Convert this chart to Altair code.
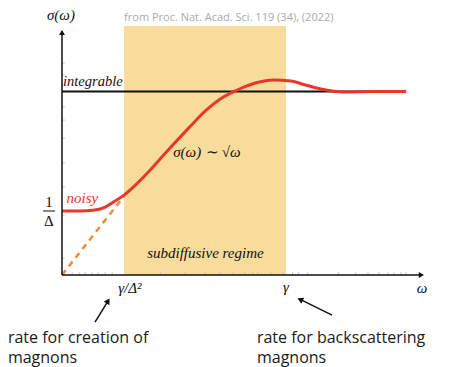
import altair as alt
import pandas as pd

# ---- data (omega, sigma) in schematic units: x 0..10, y 0..10 ----
curve_x = [0.0, 0.5, 0.91, 1.19, 1.46, 1.71, 2.02, 2.43, 2.85, 3.18, 3.54, 3.95,
           4.36, 4.83, 5.33, 5.83, 6.30, 6.71, 7.13, 7.76, 8.51, 9.48]
curve_y = [2.57, 2.57, 2.61, 2.73, 2.97, 3.21, 3.61, 4.22, 4.90, 5.42, 5.98, 6.59,
           7.07, 7.43, 7.71, 7.83, 7.79, 7.63, 7.47, 7.35, 7.37, 7.37]
integrable_level = 7.37
integrable_x = [0.0, 9.48]
dashed_x = [0.0, 1.82]
dashed_y = [0.0, 3.37]
regime_x = [1.71, 6.17]
regime_y = [0.0, 10.0]
xtick_pos = [0.28, 0.47, 0.64, 0.83, 0.99, 1.19, 1.38, 2.71, 3.40, 3.95, 4.36, 4.72,
             5.03, 5.25, 5.39, 5.75, 6.10, 6.35, 6.52, 6.77, 7.62, 8.09, 8.43, 8.73,
             8.98, 9.14, 9.34, 9.48]
ytick_pos = [8.51, 8.03, 6.75, 6.22, 5.50, 4.50, 3.53, 2.41, 0.68]

math_text = ["σ(ω)", "integrable", "σ(ω) ∼ √ω", "subdiffusive regime", "noisy",
             "γ/Δ²", "γ", "ω"]
math_x = [-0.03, 0.85, 3.99, 3.95, 0.56, 1.87, 6.17, 9.92]
math_y = [10.26, 7.59, 4.74, 0.67, 2.89, -0.72, -0.68, -0.72]
math_size = [15, 14.5, 15, 15, 15, 15, 15, 15]
math_color = ["#111111", "#111111", "#111111", "#111111", "#E8372B",
              "#111111", "#111111", "#111111"]

roman_text = ["1", "Δ"]
roman_x = [-0.36, -0.36]
roman_y = [2.73, 1.97]

note_text = ["rate for creation of", "magnons", "rate for backscattering", "magnons"]
note_x = [-1.49, -1.49, 5.37, 5.37]
note_y = [-2.73, -3.53, -2.73, -3.53]

cite_text = ["from Proc. Nat. Acad. Sci. 119 (34), (2022)"]
cite_x = [1.71]
cite_y = [10.2]

arrow_id = ["a1", "a1", "a2", "a2"]
arrow_x = [0.91, 1.27, 7.44, 6.56]
arrow_y = [-1.89, -1.04, -1.61, -0.98]
head_x = [1.27, 6.56]
head_y = [-1.04, -0.98]
head_angle = [32, 296]

# ---- scales ----
XS = alt.Scale(domain=[0, 10], nice=False, zero=False)
YS = alt.Scale(domain=[0, 10], nice=False, zero=False)


def X(f):
    return alt.X(f, type="quantitative", scale=XS, axis=None)


def Y(f):
    return alt.Y(f, type="quantitative", scale=YS, axis=None)


regime = alt.Chart(pd.DataFrame({"x": [regime_x[0]], "x2": [regime_x[1]],
                                 "y": [regime_y[0]], "y2": [regime_y[1]]})).mark_rect(
    color="#F8DC9B").encode(x=X("x"), x2="x2", y=Y("y"), y2="y2")

xt = pd.DataFrame({"x": xtick_pos, "y": 0.0, "y2": 0.12})
xticks = alt.Chart(xt).mark_rule(color="#BBBBBB", strokeWidth=0.8).encode(
    x=X("x"), y=Y("y"), y2="y2")
yt = pd.DataFrame({"y": ytick_pos, "x": 0.0, "x2": 0.09})
yticks = alt.Chart(yt).mark_rule(color="#BBBBBB", strokeWidth=0.8).encode(
    x=X("x"), x2="x2", y=Y("y"))

xaxis = alt.Chart(pd.DataFrame({"x": [0.0], "x2": [9.93], "y": [0.0]})).mark_rule(
    color="#111111", strokeWidth=1.5).encode(x=X("x"), x2="x2", y=Y("y"))
yaxis = alt.Chart(pd.DataFrame({"x": [0.0], "y": [0.0], "y2": [9.8]})).mark_rule(
    color="#111111", strokeWidth=1.5).encode(x=X("x"), y=Y("y"), y2="y2")
xhead = alt.Chart(pd.DataFrame({"x": [9.9], "y": [0.0]})).mark_point(
    shape="triangle-right", filled=True, color="#111111", size=35, opacity=1).encode(
    x=X("x"), y=Y("y"))
yhead = alt.Chart(pd.DataFrame({"x": [0.0], "y": [9.74]})).mark_point(
    shape="triangle-up", filled=True, color="#111111", size=35, opacity=1).encode(
    x=X("x"), y=Y("y"))

integ = alt.Chart(pd.DataFrame({"x": [integrable_x[0]], "x2": [integrable_x[1]],
                                "y": [integrable_level]})).mark_rule(
    color="#111111", strokeWidth=2).encode(x=X("x"), x2="x2", y=Y("y"))

dashed = alt.Chart(pd.DataFrame({"x": dashed_x, "y": dashed_y})).mark_line(
    color="#F08C3A", strokeWidth=2.5, strokeDash=[6, 5]).encode(x=X("x"), y=Y("y"))

curve = alt.Chart(pd.DataFrame({"x": curve_x, "y": curve_y})).mark_line(
    color="#E8372B", strokeWidth=3, interpolate="monotone").encode(
    x=X("x"), y=Y("y"), order="x:Q")

frac = alt.Chart(pd.DataFrame({"x": [-0.52], "x2": [-0.19], "y": [2.57]})).mark_rule(
    color="#111111", strokeWidth=1).encode(x=X("x"), x2="x2", y=Y("y"))

math = alt.Chart(pd.DataFrame({"t": math_text, "x": math_x, "y": math_y,
                               "s": math_size, "c": math_color})).mark_text(
    font="Liberation Serif", fontStyle="italic", align="center",
    baseline="alphabetic").encode(
    x=X("x"), y=Y("y"), text="t:N",
    size=alt.Size("s:Q", scale=None, legend=None),
    color=alt.Color("c:N", scale=None, legend=None))

roman = alt.Chart(pd.DataFrame({"t": roman_text, "x": roman_x, "y": roman_y})).mark_text(
    font="Liberation Serif", fontSize=15, align="center", baseline="alphabetic",
    color="#111111").encode(x=X("x"), y=Y("y"), text="t:N")

notes = alt.Chart(pd.DataFrame({"t": note_text, "x": note_x, "y": note_y})).mark_text(
    font="Open Sans", fontSize=16, align="left", baseline="alphabetic",
    color="#1a1a1a").encode(x=X("x"), y=Y("y"), text="t:N")

cite = alt.Chart(pd.DataFrame({"t": cite_text, "x": cite_x, "y": cite_y})).mark_text(
    font="Open Sans", fontSize=11, align="left", baseline="alphabetic",
    color="#AAAAAA").encode(x=X("x"), y=Y("y"), text="t:N")

arrows = alt.Chart(pd.DataFrame({"id": arrow_id, "x": arrow_x, "y": arrow_y})).mark_line(
    color="#111111", strokeWidth=1.5).encode(x=X("x"), y=Y("y"), detail="id:N")
heads = alt.Chart(pd.DataFrame({"x": head_x, "y": head_y, "a": head_angle})).mark_point(
    shape="triangle-up", filled=True, color="#111111", size=45, opacity=1).encode(
    x=X("x"), y=Y("y"), angle=alt.Angle("a:Q", scale=None))

chart = alt.layer(
    regime, xticks, yticks, integ, dashed, curve, xaxis, yaxis, xhead, yhead,
    frac, math, roman, notes, cite, arrows, heads
).properties(
    width=363, height=249,
    autosize=alt.AutoSizeParams(type="none"),
    padding={"left": 54, "top": 18, "right": 22, "bottom": 92},
).configure_view(stroke=None)

chart.save("out.html", embed_options={"renderer": "svg", "actions": False})
